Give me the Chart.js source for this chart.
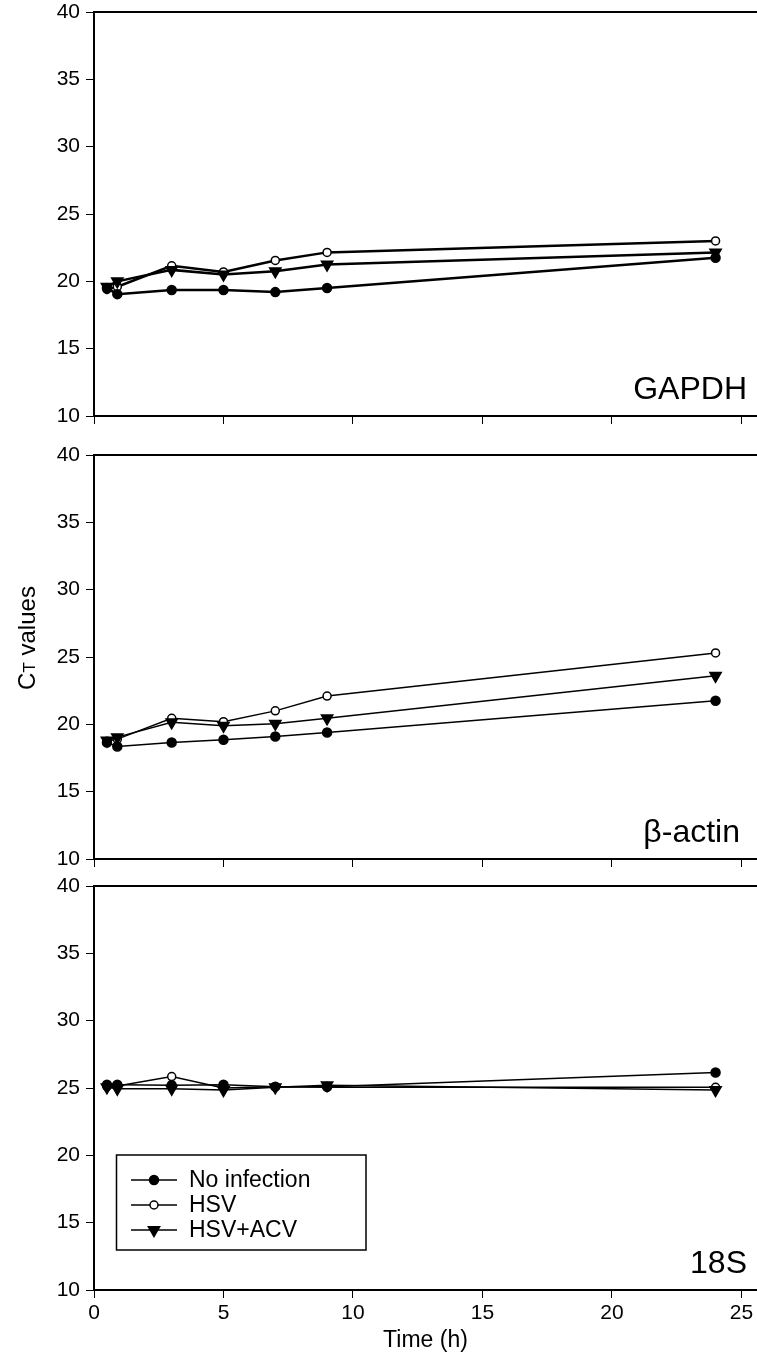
<!DOCTYPE html>
<html>
<head>
<meta charset="utf-8">
<title>Ct values over time</title>
<script src="https://cdn.jsdelivr.net/npm/chart.js@4"></script>
<style>
html, body { margin: 0; padding: 0; background: #fff; overflow: hidden; }
#wrap { position: relative; width: 757px; height: 1362px; }
canvas { position: absolute; left: 0; }
</style>
</head>
<body>
<div id="wrap">
  <canvas id="gapdh" width="757" height="440" style="top:0px"></canvas>
  <canvas id="actin" width="757" height="439" style="top:443px"></canvas>
  <canvas id="rrna" width="757" height="488" style="top:874px"></canvas>
</div>
<script>
// time points (h) and axis ticks
const hours = [0.5, 0.9, 3, 5, 7, 9, 24];
const xTicks = [0, 5, 10, 15, 20, 25];
const yTicks = [10, 15, 20, 25, 30, 35, 40];
const seriesNames = ['No infection', 'HSV', 'HSV+ACV'];

// GAPDH
const gapdhNone = [19.5, 19.05, 19.35, 19.35, 19.2, 19.5, 21.75];
const gapdhHsv  = [19.4, 19.6, 21.15, 20.7, 21.55, 22.15, 23.0];
const gapdhAcv  = [19.6, 20.0, 20.85, 20.5, 20.75, 21.25, 22.15];
// beta-actin
const actinNone = [18.65, 18.35, 18.65, 18.85, 19.1, 19.4, 21.75];
const actinHsv  = [18.75, 18.9, 20.45, 20.2, 21.0, 22.1, 25.3];
const actinAcv  = [18.8, 19.05, 20.15, 19.9, 20.05, 20.45, 23.6];
// 18S
const rrnaNone = [25.25, 25.25, 25.2, 25.25, 25.1, 25.1, 26.15];
const rrnaHsv  = [25.1, 25.15, 25.85, 25.0, 25.1, 25.05, 25.05];
const rrnaAcv  = [25.05, 24.95, 24.95, 24.85, 25.05, 25.2, 24.85];

const FONT = "'Liberation Sans', Arial, sans-serif";

// marker look per series: filled circle, open circle, down triangle
const markers = [
  { style: 'circle', fill: '#000', radius: 4.5, rotation: 0 },
  { style: 'circle', fill: '#fff', radius: 4, rotation: 0 },
  { style: 'triangle', fill: '#000', radius: 6.5, rotation: 180 }
];

function drawMarker(ctx, m, x, y) {
  ctx.save();
  ctx.fillStyle = m.fill;
  ctx.strokeStyle = '#000';
  ctx.lineWidth = 1.5;
  ctx.beginPath();
  if (m.style === 'circle') {
    ctx.arc(x, y, m.radius, 0, Math.PI * 2);
  } else {
    const r = m.radius;
    ctx.moveTo(x, y + r);
    ctx.lineTo(x - r * 0.866, y - r / 2);
    ctx.lineTo(x + r * 0.866, y - r / 2);
    ctx.closePath();
  }
  ctx.fill();
  ctx.stroke();
  ctx.restore();
}

const panelDecor = {
  id: 'panelDecor',
  afterDraw(chart, args, opts) {
    const { ctx, chartArea } = chart;
    ctx.save();
    // top frame line
    ctx.strokeStyle = '#000';
    ctx.lineWidth = 2;
    ctx.beginPath();
    ctx.moveTo(chartArea.left - 1, chartArea.top);
    ctx.lineTo(chart.width, chartArea.top);
    ctx.stroke();

    // gene name in the lower right corner
    ctx.fillStyle = '#000';
    ctx.font = '32px ' + FONT;
    ctx.textAlign = 'right';
    ctx.textBaseline = 'alphabetic';
    ctx.fillText(opts.label, opts.labelX, chartArea.bottom - 17);

    if (opts.yTitle) {
      // "CT values" with a small-cap T
      ctx.translate(27, 195);
      ctx.rotate(-Math.PI / 2);
      const big = '24px ' + FONT, small = '17px ' + FONT;
      ctx.font = big;
      const wC = ctx.measureText('C').width;
      const wV = ctx.measureText(' values').width;
      ctx.font = small;
      const wT = ctx.measureText('T').width;
      let x = -(wC + wT + wV) / 2;
      ctx.textAlign = 'left';
      ctx.textBaseline = 'alphabetic';
      ctx.font = big;
      ctx.fillText('C', x, 8);
      x += wC;
      ctx.font = small;
      ctx.fillText('T', x, 8);
      x += wT;
      ctx.font = big;
      ctx.fillText(' values', x, 8);
    }

    if (opts.legend) {
      const left = 116.5, top = 281, right = 366, bottom = 376;
      ctx.lineWidth = 1.5;
      ctx.strokeRect(left, top, right - left, bottom - top);
      ctx.font = '23px ' + FONT;
      ctx.textAlign = 'left';
      ctx.textBaseline = 'middle';
      seriesNames.forEach((name, i) => {
        const y = 306 + i * 25;
        ctx.lineWidth = 1.5;
        ctx.beginPath();
        ctx.moveTo(131, y);
        ctx.lineTo(177, y);
        ctx.stroke();
        drawMarker(ctx, markers[i], 154, y);
        ctx.fillStyle = '#000';
        ctx.fillText(name, 189, y + 1);
      });
    }
    ctx.restore();
  }
};

function makePanel(id, label, labelX, series, lineWidth, extra) {
  const canvas = document.getElementById(id);
  const areaHeight = 404;
  const xHeight = canvas.height - 12 - areaHeight;
  const datasets = series.map((vals, i) => ({
    label: seriesNames[i],
    data: hours.map((h, j) => ({ x: h, y: vals[j] })),
    borderColor: '#000',
    borderWidth: lineWidth,
    pointStyle: markers[i].style,
    pointRotation: markers[i].rotation,
    pointRadius: markers[i].radius,
    pointBackgroundColor: markers[i].fill,
    pointBorderColor: '#000',
    pointBorderWidth: 1.5,
    tension: 0,
    fill: false
  }));
  // open circles drawn on top
  const order = [0, 2, 1];
  return new Chart(canvas, {
    type: 'line',
    data: { datasets: order.map(i => datasets[i]) },
    options: {
      responsive: false,
      animation: false,
      devicePixelRatio: 1,
      layout: { autoPadding: false, padding: { top: 12, right: 0, bottom: 0, left: 0 } },
      plugins: {
        legend: { display: false },
        tooltip: { enabled: false },
        panelDecor: Object.assign({ label: label, labelX: labelX }, extra)
      },
      scales: {
        x: {
          type: 'linear',
          min: 0,
          max: 25.6,
          afterBuildTicks: s => { s.ticks = xTicks.map(v => ({ value: v })); },
          afterFit: s => { s.height = xHeight; },
          grid: { drawOnChartArea: false, tickLength: 8, color: '#000', tickWidth: 1 },
          border: { color: '#000', width: 2 },
          ticks: {
            display: !!extra.showX,
            color: '#000',
            font: { family: FONT, size: 21 },
            padding: 3,
            maxRotation: 0
          },
          title: {
            display: !!extra.showX,
            text: 'Time (h)',
            color: '#000',
            font: { family: FONT, size: 23 },
            padding: { top: 0, bottom: 8 }
          }
        },
        y: {
          min: 10,
          max: 40,
          afterBuildTicks: s => { s.ticks = yTicks.map(v => ({ value: v })); },
          // fixed width, and let the layout padding set the top edge
          afterFit: s => { s.width = 94; s.paddingTop = 0; s.paddingBottom = 0; },
          grid: { drawOnChartArea: false, tickLength: 8, color: '#000', tickWidth: 1 },
          border: { color: '#000', width: 2 },
          ticks: {
            color: '#000',
            font: { family: FONT, size: 21 },
            padding: 6
          }
        }
      }
    },
    plugins: [panelDecor]
  });
}

makePanel('gapdh', 'GAPDH', 747, [gapdhNone, gapdhHsv, gapdhAcv], 2.5, {});
makePanel('actin', 'β-actin', 740, [actinNone, actinHsv, actinAcv], 1.5, { yTitle: true });
makePanel('rrna', '18S', 747, [rrnaNone, rrnaHsv, rrnaAcv], 1.5, { legend: true, showX: true });
</script>
</body>
</html>
